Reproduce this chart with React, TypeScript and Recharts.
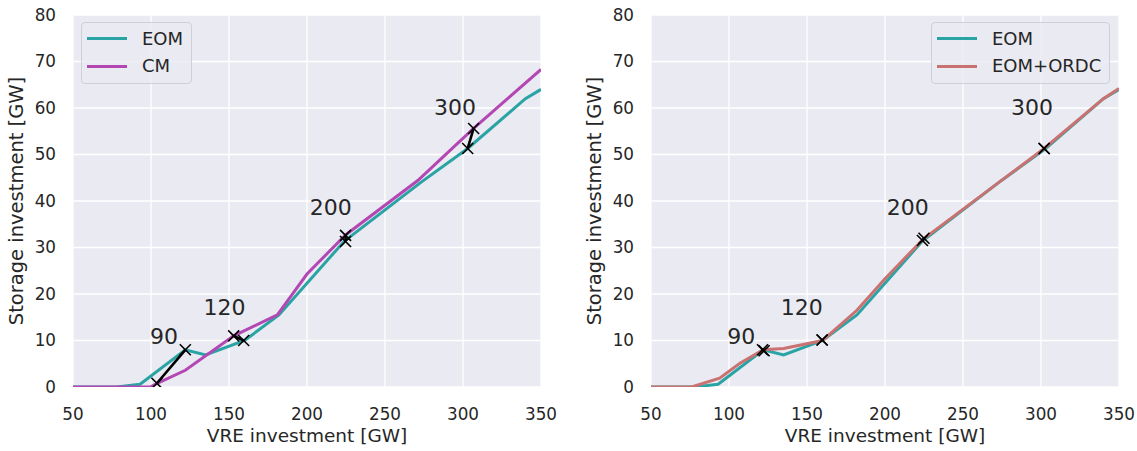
import { CartesianGrid, ComposedChart, Line, Scatter, XAxis, YAxis } from "recharts";

const FONT = "DejaVu Sans";
const TEXT = "#262626";
const TEAL = "#2aa3a4";
const MAGENTA = "#b347b3";
const RED = "#c97271";

// shared EOM path (both panels)
const eomX = [50, 78, 93, 122, 135, 160, 182, 224, 273, 303, 340, 350];
const eomY = [0, 0, 0.6, 8.0, 6.9, 10.0, 15.5, 31.4, 44.0, 51.3, 62.0, 64.0];

const cmX = [50, 99.5, 104, 122, 153, 181, 200, 224.7, 271, 306.8, 350];
const cmY = [0, 0, 0.8, 3.6, 11.0, 15.5, 24.3, 32.7, 44.4, 55.6, 68.3];

const ordcX = [50, 76, 94, 107, 122, 135, 160, 182, 200, 224.5, 273, 302, 340, 350];
const ordcY = [0, 0, 1.9, 5.1, 8.0, 8.3, 10.0, 16.5, 23.3, 31.8, 44.0, 51.3, 62.0, 64.2];

// marker pairs [EOM point, other point]
const leftPairs = [
  [[122, 8.0], [103.8, 0.8]],
  [[159.4, 10.0], [153, 11.0]],
  [[224.7, 31.3], [224.7, 32.6]],
  [[303, 51.3], [306.8, 55.6]],
];
const rightPairs = [
  [[122.5, 7.8], [121.5, 8.0]],
  [[159.7, 10.1], [159.7, 10.1]],
  [[224, 31.5], [225, 32.0]],
  [[302, 51.3], [302, 51.3]],
];

const tagText = ["90", "120", "200", "300"];
const leftTagX = [108.3, 147.1, 215.2, 294.9];
const rightTagX = [107.9, 146.6, 214.6, 294.3];
const tagY = [10.9, 17.2, 38.7, 60.2];

const xTicks = [50, 100, 150, 200, 250, 300, 350];
const yTicks = [0, 10, 20, 30, 40, 50, 60, 70, 80];

const toPts = (xs: number[], ys: number[]) => xs.map((x, i) => ({ x, y: ys[i] }));
const toTags = (xs: number[]) => xs.map((x, i) => ({ x, y: tagY[i], label: tagText[i] }));

const XMark = (p: any) => {
  const { cx, cy } = p;
  if (cx == null || cy == null) return null;
  const s = 5.5;
  return (
    <g>
      <line x1={cx - s} y1={cy - s} x2={cx + s} y2={cy + s} stroke="#000" strokeWidth={1.6} />
      <line x1={cx - s} y1={cy + s} x2={cx + s} y2={cy - s} stroke="#000" strokeWidth={1.6} />
    </g>
  );
};

const TagText = (p: any) => (
  <text x={p.cx} y={p.cy} textAnchor="middle" dominantBaseline="central" fontFamily={FONT} fontSize={22} fill={TEXT}>
    {p.payload.label}
  </text>
);

function LegendBox({ items, left }: { items: { name: string; color: string }[]; left: number }) {
  return (
    <div
      style={{
        position: "absolute",
        left,
        top: 22,
        border: "1px solid #cfcfd6",
        borderRadius: 4,
        background: "rgba(234,234,242,0.8)",
        padding: "2px 8px 3px 5px",
        fontFamily: FONT,
        fontSize: 18,
        color: TEXT,
        lineHeight: 1,
      }}
    >
      {items.map((e) => (
        <div key={e.name} style={{ display: "flex", alignItems: "center", height: 27.5 }}>
          <span style={{ display: "inline-block", width: 40, height: 3, background: e.color, marginRight: 15 }} />
          <span>{e.name}</span>
        </div>
      ))}
    </div>
  );
}

const XTitle = ({ viewBox }: any) => (
  <text x={viewBox.x + viewBox.width / 2} y={viewBox.y + 55} textAnchor="middle" fontFamily={FONT} fontSize={18.5} fill={TEXT}>
    VRE investment [GW]
  </text>
);

const YTitle = ({ viewBox }: any) => {
  const x = viewBox.x + viewBox.width - 50;
  const y = viewBox.y + viewBox.height / 2;
  return (
    <text x={x} y={y} transform={`rotate(-90, ${x}, ${y})`} textAnchor="middle" fontFamily={FONT} fontSize={19.5} fill={TEXT}>
      Storage investment [GW]
    </text>
  );
};

interface PanelProps {
  left: number;
  second: { name: string; color: string; xs: number[]; ys: number[] };
  pairs: number[][][];
  tagX: number[];
  legendLeft: number;
}

function Panel({ left, second, pairs, tagX, legendLeft }: PanelProps) {
  const tick = { fill: TEXT, fontSize: 16.8, fontFamily: FONT };
  return (
    <div style={{ position: "absolute", left, top: 0, width: 560, height: 451 }}>
      <ComposedChart width={560} height={451} margin={{ top: 15, right: 19, left: 13, bottom: 0 }}>
        <CartesianGrid fill="#eaeaf2" stroke="#ffffff" strokeWidth={1.3} horizontalValues={yTicks} verticalValues={xTicks} />
        <XAxis
          type="number"
          dataKey="x"
          domain={[50, 350]}
          ticks={xTicks}
          interval={0}
          allowDataOverflow
          height={64}
          axisLine={false}
          tickLine={false}
          tickMargin={15}
          tick={tick}
          label={<XTitle />}
        />
        <YAxis
          type="number"
          dataKey="y"
          domain={[0, 80]}
          ticks={yTicks}
          interval={0}
          allowDataOverflow
          width={60}
          axisLine={false}
          tickLine={false}
          tickMargin={11}
          tick={tick}
          label={<YTitle />}
        />
        <Line data={toPts(eomX, eomY)} dataKey="y" name="EOM" stroke={TEAL} strokeWidth={3} dot={false} activeDot={false} isAnimationActive={false} />
        <Line data={toPts(second.xs, second.ys)} dataKey="y" name={second.name} stroke={second.color} strokeWidth={3} dot={false} activeDot={false} isAnimationActive={false} />
        {pairs.map((pr, i) => (
          <Line
            key={"pair" + i}
            data={pr.map(([x, y]) => ({ x, y }))}
            dataKey="y"
            stroke="#000"
            strokeWidth={2.6}
            dot={(p: any) => <XMark key={"m" + i + "-" + p.index} {...p} />}
            activeDot={false}
            isAnimationActive={false}
          />
        ))}
        <Scatter data={toTags(tagX)} dataKey="y" shape={<TagText />} isAnimationActive={false} />
      </ComposedChart>
      <LegendBox left={legendLeft} items={[{ name: "EOM", color: TEAL }, { name: second.name, color: second.color }]} />
    </div>
  );
}

export default function App() {
  return (
    <div style={{ position: "fixed", left: 0, top: 0, width: 1137, height: 451, overflow: "hidden", background: "#fff" }}>
      <Panel left={0} second={{ name: "CM", color: MAGENTA, xs: cmX, ys: cmY }} pairs={leftPairs} tagX={leftTagX} legendLeft={81} />
      <Panel left={578} second={{ name: "EOM+ORDC", color: RED, xs: ordcX, ys: ordcY }} pairs={rightPairs} tagX={rightTagX} legendLeft={353} />
    </div>
  );
}
